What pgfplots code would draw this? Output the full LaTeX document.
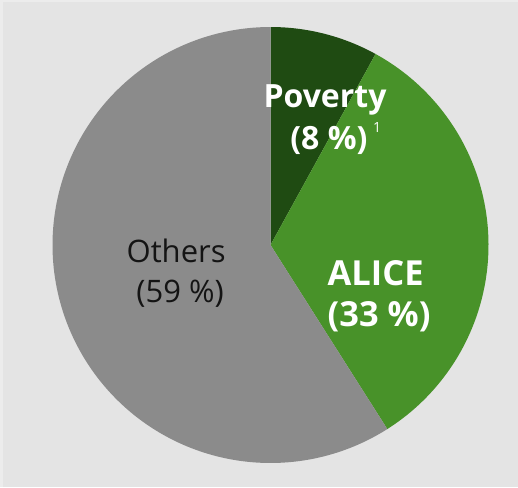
\documentclass[border=0pt]{standalone}
\usepackage{fontspec}
\setmainfont{Open Sans}
\usepackage{pgfplots}
\pgfplotsset{compat=1.18}
\definecolor{bgc}{HTML}{E4E4E4}
\definecolor{bgl}{HTML}{ECECEC}
\definecolor{povc}{HTML}{1F4B12}
\definecolor{alicec}{HTML}{489229}
\definecolor{othc}{HTML}{8B8B8B}
% shares in percent
\def\pov{8}
\def\alice{33}
\def\oth{59}
\begin{document}
\begin{tikzpicture}
\path[use as bounding box] (0,0) rectangle (518pt,487pt);
\fill[bgc] (0,0) rectangle (518pt,487pt);
\fill[bgl] (0,0) rectangle (3pt,487pt);
\fill[bgl] (0,484.5pt) rectangle (518pt,487pt);
\begin{axis}[
  at={(0,0)}, anchor=south west,
  width=518pt, height=487pt, scale only axis,
  xmin=-1.2408, xmax=1.1353, ymin=-1.1101, ymax=1.1239,
  hide axis, clip=false,
]
\pgfmathsetmacro{\aA}{90}
\pgfmathsetmacro{\aB}{90-\pov*3.6}
\pgfmathsetmacro{\aC}{\aB-\alice*3.6}
\pgfmathsetmacro{\aD}{\aC-\oth*3.6}
\addplot[fill=povc, draw=none, domain=\aB:\aA, samples=40] ({cos(x)},{sin(x)}) -- (0,0) -- cycle;
\addplot[fill=alicec, draw=none, domain=\aC:\aB, samples=120] ({cos(x)},{sin(x)}) -- (0,0) -- cycle;
\addplot[fill=othc, draw=none, domain=\aD:\aC, samples=200] ({cos(x)},{sin(x)}) -- (0,0) -- cycle;
\node[anchor=base, text=white, font=\fontsize{32}{38}\selectfont\bfseries] at (axis cs:0.250,0.633) {Poverty};
\node[anchor=base, text=white, font=\fontsize{32}{38}\selectfont\bfseries] at (axis cs:0.268,0.436) {(8 \%)};
\node[anchor=base, text=white, font=\fontsize{14}{16}\selectfont] at (axis cs:0.489,0.518) {1};
\node[anchor=base, text=white, font=\fontsize{34.5}{40}\selectfont\bfseries] at (axis cs:0.482,-0.188) {ALICE};
\node[anchor=base, text=white, font=\fontsize{34.5}{40}\selectfont\bfseries] at (axis cs:0.498,-0.376) {(33 \%)};
\node[anchor=base, text=black!92, font=\fontsize{31}{37}\selectfont] at (axis cs:-0.433,-0.078) {Others};
\node[anchor=base, text=black!92, font=\fontsize{31}{37}\selectfont] at (axis cs:-0.415,-0.266) {(59 \%)};
\end{axis}
\end{tikzpicture}
\end{document}
